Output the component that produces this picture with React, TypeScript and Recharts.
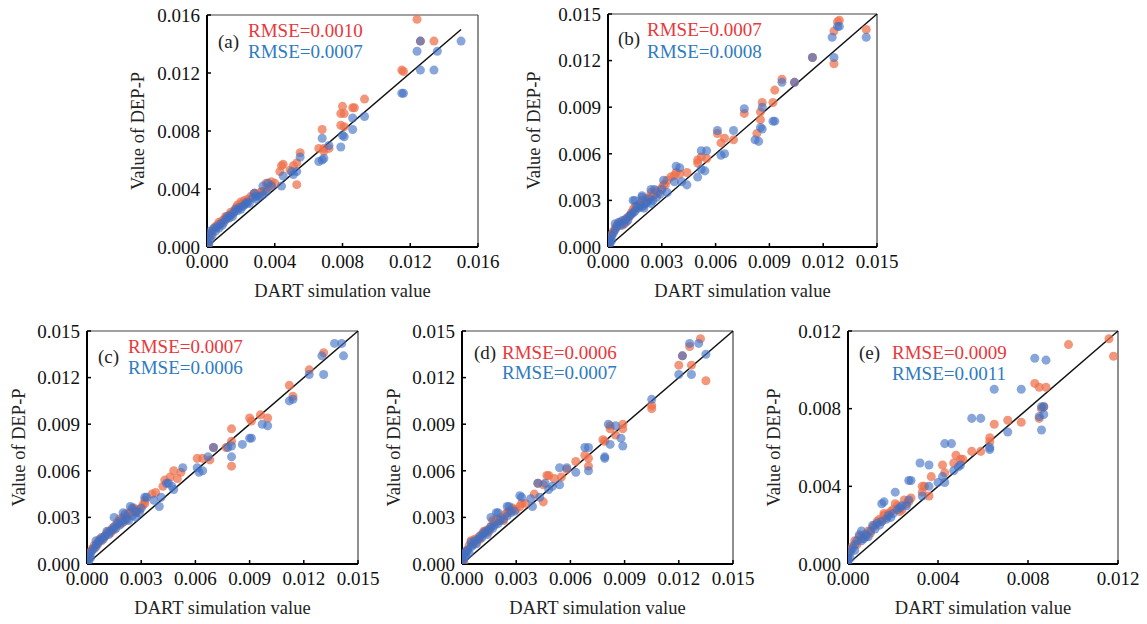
import React from 'react';
import { ScatterChart, Scatter, XAxis, YAxis, ReferenceLine } from 'recharts';

type P = [number, number];

// ---------- data (x = DART simulation value, y = DEP-P value) ----------
const aRed: P[] = [
  [0.0, 0.0001], [0.0, 0.0004], [0.0001, 0.0006], [0.0001, 0.0002], [0.0002, 0.0008], [0.0003, 0.001], [0.0004, 0.0012],
  [0.0005, 0.0014], [0.0006, 0.0015], [0.0007, 0.0017], [0.0008, 0.0016], [0.0009, 0.0018], [0.001, 0.0019], [0.0011, 0.0021],
  [0.0012, 0.002], [0.0013, 0.0022], [0.0014, 0.0024], [0.0015, 0.0023], [0.0016, 0.0025], [0.0017, 0.0027], [0.0018, 0.0029],
  [0.0019, 0.0028], [0.002, 0.0031], [0.0021, 0.003], [0.0022, 0.0032], [0.0023, 0.0031], [0.0024, 0.0033], [0.0026, 0.0035],
  [0.0028, 0.0037], [0.003, 0.0036], [0.0032, 0.0038], [0.0034, 0.0039], [0.0036, 0.0041], [0.0038, 0.0043], [0.004, 0.0044],
  [0.0124, 0.0157], [0.0126, 0.0142], [0.0134, 0.0142], [0.0115, 0.0122], [0.0116, 0.0121], [0.0093, 0.0102], [0.0086, 0.0096],
  [0.0087, 0.0096], [0.008, 0.0097], [0.0079, 0.0092], [0.0081, 0.0092], [0.0079, 0.0084], [0.0081, 0.0083], [0.0068, 0.0081],
  [0.0066, 0.0068], [0.0069, 0.0068], [0.0069, 0.0066], [0.0072, 0.0068], [0.0055, 0.0065], [0.0053, 0.0058], [0.0051, 0.0056],
  [0.0049, 0.0053], [0.0045, 0.0057], [0.0044, 0.0056], [0.0043, 0.0052], [0.0053, 0.0043], [0.0038, 0.0045], [0.0035, 0.0044],
  [0.0032, 0.0038], [0.0028, 0.0037],
];
const aBlue: P[] = [
  [0.0, 0.0], [0.0, 0.0003], [0.0, 0.0006], [0.0001, 0.0002], [0.0001, 0.0009], [0.0002, 0.0005], [0.0002, 0.0011], [0.0003, 0.0008],
  [0.0004, 0.0013], [0.0005, 0.0011], [0.0006, 0.0014], [0.0007, 0.0013], [0.0008, 0.0016], [0.0009, 0.0015], [0.001, 0.0017],
  [0.0011, 0.0019], [0.0012, 0.0021], [0.0013, 0.002], [0.0014, 0.0022], [0.0015, 0.0021], [0.0016, 0.0024], [0.0017, 0.0026],
  [0.0018, 0.0025], [0.0019, 0.0027], [0.002, 0.0026], [0.0021, 0.0028], [0.0022, 0.0029], [0.0023, 0.003], [0.0024, 0.0031],
  [0.0025, 0.003], [0.0027, 0.0034], [0.0029, 0.0033], [0.0031, 0.0035], [0.0033, 0.0036], [0.0035, 0.0038],
  [0.015, 0.0142], [0.0124, 0.0135], [0.0136, 0.0135], [0.0126, 0.0142], [0.0126, 0.0122], [0.0134, 0.0122], [0.0115, 0.0106],
  [0.0116, 0.0106], [0.0086, 0.0089], [0.0093, 0.009], [0.0086, 0.0081], [0.008, 0.0077], [0.0081, 0.0076], [0.0079, 0.0069],
  [0.0068, 0.0075], [0.0072, 0.007], [0.0069, 0.0061], [0.0068, 0.006], [0.0066, 0.0059], [0.0055, 0.0062], [0.0053, 0.0052],
  [0.0051, 0.005], [0.005, 0.0052], [0.0045, 0.0049], [0.0044, 0.0042], [0.0036, 0.0044], [0.0033, 0.0042], [0.0038, 0.0042],
  [0.0029, 0.0035], [0.0028, 0.0037],
];

const bRed: P[] = [
  [0.0, 0.0006], [0.0001, 0.0003], [0.0002, 0.0008], [0.0003, 0.001], [0.0004, 0.0012], [0.0005, 0.0014], [0.0006, 0.0015],
  [0.0007, 0.0016], [0.0008, 0.0014], [0.0009, 0.0017], [0.001, 0.0016], [0.0011, 0.0019], [0.0012, 0.002], [0.0013, 0.0022],
  [0.0014, 0.0024], [0.0015, 0.0026], [0.0016, 0.0025], [0.0017, 0.0027], [0.0018, 0.0028], [0.0019, 0.003], [0.002, 0.0027],
  [0.0021, 0.0031], [0.0022, 0.003], [0.0023, 0.0032], [0.0026, 0.0034], [0.0027, 0.0036], [0.0028, 0.0035], [0.0032, 0.004],
  [0.0035, 0.0045],
  [0.0129, 0.0146], [0.0128, 0.0145], [0.0126, 0.0139], [0.0144, 0.014], [0.0126, 0.0118], [0.0114, 0.0122], [0.0104, 0.0106],
  [0.0097, 0.0108], [0.0093, 0.0101], [0.0092, 0.0093], [0.0086, 0.0093], [0.0085, 0.0087], [0.0085, 0.0082], [0.0076, 0.0086],
  [0.0083, 0.0073], [0.007, 0.0069], [0.0065, 0.007], [0.0063, 0.0067], [0.0061, 0.0073], [0.0055, 0.0057], [0.0052, 0.0058],
  [0.005, 0.0056], [0.005, 0.0054], [0.0044, 0.0048], [0.004, 0.0047], [0.0038, 0.0048], [0.0037, 0.0046], [0.0033, 0.0043],
  [0.0031, 0.004], [0.003, 0.0038], [0.0024, 0.0035], [0.0025, 0.0033],
];
const bBlue: P[] = [
  [0.0, 0.0001], [0.0, 0.0003], [0.0001, 0.0005], [0.0001, 0.0002], [0.0002, 0.0007], [0.0002, 0.0004], [0.0003, 0.0009],
  [0.0004, 0.0011], [0.0004, 0.0015], [0.0005, 0.0013], [0.0006, 0.0016], [0.0007, 0.0014], [0.0008, 0.0017], [0.0009, 0.0015],
  [0.001, 0.0018], [0.0011, 0.0017], [0.0012, 0.002], [0.0013, 0.0021], [0.0014, 0.0022], [0.0015, 0.0023], [0.0016, 0.0026],
  [0.0017, 0.0025], [0.0018, 0.0027], [0.0019, 0.0026], [0.002, 0.0025], [0.0021, 0.0028], [0.0022, 0.0029], [0.0023, 0.0031],
  [0.0025, 0.003], [0.0027, 0.0032], [0.0029, 0.0034],
  [0.0129, 0.0142], [0.0128, 0.0142], [0.0125, 0.0135], [0.0144, 0.0135], [0.0126, 0.0122], [0.0114, 0.0122], [0.0104, 0.0106],
  [0.0097, 0.0106], [0.0092, 0.0081], [0.0093, 0.0081], [0.0086, 0.009], [0.0085, 0.0077], [0.0086, 0.0076], [0.0076, 0.0089],
  [0.0082, 0.0069], [0.0084, 0.0068], [0.007, 0.0075], [0.0061, 0.0075], [0.0063, 0.0059], [0.0065, 0.006], [0.0052, 0.0062],
  [0.0055, 0.0062], [0.0052, 0.005], [0.005, 0.0045], [0.0054, 0.0049], [0.0038, 0.0052], [0.004, 0.0051], [0.0044, 0.004],
  [0.0041, 0.0042], [0.0037, 0.0042], [0.0031, 0.0043], [0.0033, 0.0035], [0.003, 0.0037], [0.0019, 0.0033], [0.0019, 0.0032],
  [0.0014, 0.003], [0.0015, 0.003], [0.0024, 0.0037], [0.0026, 0.0037], [0.0024, 0.0028],
];

const cRed: P[] = [
  [0.0, 0.0006], [0.0, 0.0002], [0.0001, 0.0004], [0.0002, 0.0008], [0.0003, 0.001], [0.0004, 0.0012], [0.0005, 0.0011],
  [0.0006, 0.0014], [0.0007, 0.0016], [0.0008, 0.0015], [0.0009, 0.0017], [0.001, 0.0018], [0.0011, 0.002], [0.0012, 0.0021],
  [0.0013, 0.002], [0.0014, 0.0023], [0.0015, 0.0022], [0.0016, 0.0025], [0.0017, 0.0027], [0.0018, 0.0029], [0.0019, 0.0026],
  [0.002, 0.003], [0.0021, 0.0028], [0.0022, 0.0031], [0.0023, 0.0033], [0.0025, 0.0034], [0.0027, 0.0033], [0.0029, 0.0035],
  [0.0031, 0.0038],
  [0.0131, 0.0136], [0.0123, 0.0125], [0.0112, 0.0115], [0.0114, 0.0108], [0.009, 0.0094], [0.0091, 0.0092], [0.0096, 0.0096],
  [0.01, 0.0094], [0.008, 0.0087], [0.008, 0.0079], [0.008, 0.0063], [0.007, 0.0075], [0.0077, 0.0075], [0.0068, 0.0067],
  [0.0061, 0.0068], [0.0064, 0.0068], [0.0052, 0.0059], [0.0048, 0.006], [0.005, 0.0055], [0.0046, 0.0056], [0.0043, 0.0054],
  [0.0042, 0.005], [0.0038, 0.0046], [0.0036, 0.0045], [0.0032, 0.0039], [0.0032, 0.0041], [0.0026, 0.0036], [0.0027, 0.0035],
  [0.0024, 0.0033],
];
const cBlue: P[] = [
  [0.0, 0.0001], [0.0, 0.0003], [0.0001, 0.0002], [0.0001, 0.0005], [0.0002, 0.0004], [0.0002, 0.0007], [0.0003, 0.0009],
  [0.0004, 0.001], [0.0005, 0.0015], [0.0005, 0.0012], [0.0006, 0.0013], [0.0007, 0.0015], [0.0008, 0.0017], [0.0009, 0.0016],
  [0.001, 0.0018], [0.0011, 0.0021], [0.0012, 0.0019], [0.0013, 0.0021], [0.0014, 0.0022], [0.0015, 0.0024], [0.0016, 0.0023],
  [0.0017, 0.0026], [0.0018, 0.0025], [0.0019, 0.0028], [0.002, 0.0027], [0.0022, 0.0029], [0.0023, 0.0028], [0.0025, 0.0031],
  [0.0027, 0.003], [0.0029, 0.0033],
  [0.0137, 0.0142], [0.0141, 0.0142], [0.0142, 0.0134], [0.013, 0.0134], [0.0131, 0.0122], [0.0123, 0.0122], [0.0112, 0.0105],
  [0.0114, 0.0106], [0.0097, 0.009], [0.01, 0.0089], [0.009, 0.0081], [0.0091, 0.0081], [0.0086, 0.0077], [0.008, 0.0076],
  [0.008, 0.0069], [0.0078, 0.0075], [0.007, 0.0075], [0.0067, 0.0069], [0.0062, 0.0059], [0.0064, 0.006], [0.0061, 0.0062],
  [0.0053, 0.0062], [0.0045, 0.0052], [0.0047, 0.005], [0.0048, 0.0048], [0.0044, 0.0052], [0.0041, 0.0043], [0.004, 0.0037],
  [0.0037, 0.0041], [0.0032, 0.0043], [0.0033, 0.0043], [0.003, 0.0036], [0.0024, 0.0037], [0.0025, 0.0036], [0.002, 0.0033],
  [0.0021, 0.0032], [0.0015, 0.003], [0.0027, 0.0034],
];

const dRed: P[] = [
  [0.0, 0.0006], [0.0, 0.0003], [0.0001, 0.0001], [0.0002, 0.0007], [0.0003, 0.0009], [0.0004, 0.0012], [0.0005, 0.0015],
  [0.0006, 0.0013], [0.0007, 0.0016], [0.0008, 0.0014], [0.0009, 0.0017], [0.001, 0.0016], [0.0011, 0.0019], [0.0012, 0.0021],
  [0.0013, 0.002], [0.0014, 0.0022], [0.0015, 0.0021], [0.0016, 0.0024], [0.0017, 0.0028], [0.0019, 0.0027], [0.002, 0.0029],
  [0.0022, 0.003], [0.0023, 0.0028], [0.0024, 0.0032], [0.0026, 0.0034], [0.0028, 0.0036], [0.003, 0.0035], [0.0035, 0.0039],
  [0.0132, 0.0145], [0.0126, 0.014], [0.0122, 0.0134], [0.012, 0.0128], [0.0127, 0.0128], [0.0135, 0.0118], [0.0105, 0.0102],
  [0.0105, 0.01], [0.0089, 0.009], [0.0089, 0.0087], [0.0082, 0.0089], [0.0082, 0.0087], [0.0085, 0.0083], [0.0079, 0.0079],
  [0.0078, 0.008], [0.0068, 0.007], [0.007, 0.0068], [0.007, 0.0063], [0.0063, 0.0066], [0.0058, 0.0061], [0.0055, 0.0056],
  [0.0051, 0.0055], [0.0048, 0.0057], [0.0047, 0.0057], [0.0045, 0.004], [0.0042, 0.0052], [0.0045, 0.0051], [0.004, 0.0045],
  [0.0033, 0.0039], [0.0032, 0.0037], [0.0028, 0.0035], [0.0025, 0.0033], [0.0021, 0.0028], [0.0018, 0.0027],
];
const dBlue: P[] = [
  [0.0, 0.0002], [0.0, 0.0004], [0.0001, 0.0006], [0.0001, 0.0003], [0.0002, 0.0008], [0.0002, 0.0005], [0.0003, 0.0009],
  [0.0004, 0.0007], [0.0005, 0.0011], [0.0005, 0.0014], [0.0006, 0.0012], [0.0007, 0.0015], [0.0008, 0.0013], [0.0009, 0.0016],
  [0.001, 0.0018], [0.0011, 0.0017], [0.0012, 0.002], [0.0013, 0.0021], [0.0014, 0.0019], [0.0015, 0.0022], [0.0016, 0.0024],
  [0.0017, 0.0023], [0.0018, 0.0025], [0.002, 0.0026], [0.0021, 0.0028], [0.0023, 0.0029], [0.0025, 0.0031], [0.0027, 0.0033],
  [0.0029, 0.0034],
  [0.0126, 0.0142], [0.0131, 0.0142], [0.0122, 0.0134], [0.012, 0.0122], [0.0127, 0.0122], [0.0135, 0.0135], [0.0105, 0.0106],
  [0.0081, 0.009], [0.0085, 0.0089], [0.0082, 0.0077], [0.0088, 0.0081], [0.0089, 0.0076], [0.0079, 0.0069], [0.0079, 0.0068],
  [0.0068, 0.0075], [0.007, 0.0075], [0.007, 0.006], [0.0063, 0.0059], [0.0058, 0.0062], [0.0054, 0.0062], [0.0054, 0.0051],
  [0.005, 0.005], [0.0048, 0.0048], [0.0046, 0.0052], [0.0043, 0.0043], [0.0042, 0.0052], [0.0038, 0.0042], [0.0039, 0.0037],
  [0.0033, 0.0043], [0.0032, 0.0044], [0.0025, 0.0037], [0.0026, 0.0037], [0.0016, 0.003], [0.0019, 0.0033], [0.002, 0.0033],
];

const eRed: P[] = [
  [0.0, 0.0002], [0.0, 0.0005], [0.0001, 0.0007], [0.0002, 0.0009], [0.0003, 0.0012], [0.0004, 0.001], [0.0005, 0.0014],
  [0.0006, 0.0013], [0.0007, 0.0015], [0.0008, 0.0014], [0.0009, 0.0017], [0.001, 0.0016], [0.0011, 0.0019], [0.0012, 0.002],
  [0.0013, 0.0022], [0.0015, 0.0022], [0.0016, 0.0025], [0.0017, 0.0024], [0.0018, 0.0026], [0.0019, 0.0027], [0.002, 0.0028],
  [0.0022, 0.003], [0.0023, 0.0027], [0.0025, 0.0033], [0.0026, 0.0031], [0.0027, 0.0032],
  [0.0116, 0.0116], [0.0118, 0.0107], [0.0098, 0.0113], [0.0083, 0.0093], [0.0085, 0.0091], [0.0088, 0.0091], [0.0086, 0.008],
  [0.0087, 0.0081], [0.0085, 0.0075], [0.0077, 0.0073], [0.0071, 0.0074], [0.0065, 0.0072], [0.0063, 0.0065], [0.0063, 0.0063],
  [0.0059, 0.0058], [0.0055, 0.0058], [0.0048, 0.0056], [0.005, 0.0054], [0.0051, 0.0054], [0.0047, 0.0052], [0.0042, 0.0051],
  [0.0043, 0.0047], [0.0037, 0.0045], [0.0033, 0.004], [0.0034, 0.004], [0.0036, 0.0035], [0.0033, 0.0037], [0.0028, 0.0034],
  [0.0021, 0.0031], [0.0024, 0.0028], [0.0016, 0.0026], [0.0014, 0.0023],
];
const eBlue: P[] = [
  [0.0, 0.0], [0.0, 0.0002], [0.0, 0.0004], [0.0001, 0.0006], [0.0001, 0.0003], [0.0002, 0.0008], [0.0003, 0.0007],
  [0.0003, 0.001], [0.0004, 0.0012], [0.0005, 0.0015], [0.0006, 0.0012], [0.0006, 0.0017], [0.0007, 0.0013], [0.0008, 0.0015],
  [0.0009, 0.0014], [0.001, 0.0017], [0.0011, 0.002], [0.0012, 0.0018], [0.0013, 0.0021], [0.0014, 0.002], [0.0015, 0.0022],
  [0.0017, 0.0023], [0.0018, 0.0025], [0.0019, 0.0024], [0.002, 0.0026], [0.0022, 0.0028], [0.0024, 0.003], [0.0026, 0.003],
  [0.0083, 0.0106], [0.0088, 0.0105], [0.0065, 0.009], [0.0077, 0.009], [0.0055, 0.0075], [0.0059, 0.0075], [0.0086, 0.0081],
  [0.0087, 0.0081], [0.0085, 0.0076], [0.0087, 0.0077], [0.0086, 0.0069], [0.0071, 0.0068], [0.0063, 0.006], [0.0063, 0.0059],
  [0.0043, 0.0062], [0.0046, 0.0062], [0.0032, 0.0052], [0.0036, 0.0051], [0.0042, 0.0045], [0.0043, 0.0042], [0.005, 0.0051],
  [0.0049, 0.005], [0.0047, 0.0048], [0.004, 0.0042], [0.0036, 0.004], [0.0033, 0.0035], [0.0027, 0.0043], [0.0028, 0.0043],
  [0.0021, 0.0037], [0.0015, 0.0031], [0.0016, 0.0032], [0.0023, 0.0029], [0.0027, 0.0033],
];

const ticks016 = [0, 0.004, 0.008, 0.012, 0.016];
const ticks015 = [0, 0.003, 0.006, 0.009, 0.012, 0.015];
const ticks012 = [0, 0.004, 0.008, 0.012];

const panelLabels = ['(a)', '(b)', '(c)', '(d)', '(e)'];
const redRmse = ['RMSE=0.0010', 'RMSE=0.0007', 'RMSE=0.0007', 'RMSE=0.0006', 'RMSE=0.0009'];
const blueRmse = ['RMSE=0.0007', 'RMSE=0.0008', 'RMSE=0.0006', 'RMSE=0.0007', 'RMSE=0.0011'];
const axisMax = [0.016, 0.015, 0.015, 0.015, 0.012];
const lineMax = [0.015, 0.015, 0.015, 0.015, 0.012];
const axisTicks = [ticks016, ticks015, ticks015, ticks015, ticks012];
const redSeries = [aRed, bRed, cRed, dRed, eRed];
const blueSeries = [aBlue, bBlue, cBlue, dBlue, eBlue];

// ---------- layout ----------
const layout = [
  { left: 207, top: 15, w: 271, h: 232, yLab: 70, lab: [11, 27], red: [41, 16], blue: [41, 37] },
  { left: 608, top: 14, w: 269, h: 233, yLab: 75, lab: [10, 25], red: [39, 16], blue: [39, 38] },
  { left: 87, top: 331, w: 271, h: 233, yLab: 69, lab: [11, 26], red: [41, 16], blue: [41, 37] },
  { left: 462, top: 331, w: 271, h: 233, yLab: 69, lab: [12, 22], red: [40, 22], blue: [40, 42] },
  { left: 848, top: 331, w: 270, h: 233, yLab: 75, lab: [11, 22], red: [44, 22], blue: [44, 43] },
];

const FONT = '"Liberation Serif", "Times New Roman", serif';
const RED_TXT = '#e8383d';
const BLUE_TXT = '#2f7bbf';
const TOP_PAD = 10;
const X_AXIS_H = 86;
const RIGHT_PAD = 30;

const fmt = (v: number) => v.toFixed(3);

function Panel({ i }: { i: number }) {
  const L = layout[i];
  const yw = L.yLab * 2;
  const width = yw + L.w + RIGHT_PAD;
  const height = TOP_PAD + L.h + X_AXIS_H;
  const red = redSeries[i].map(([x, y]) => ({ x, y }));
  const blue = blueSeries[i].map(([x, y]) => ({ x, y }));
  const max = axisMax[i];
  const lm = lineMax[i];
  const tickStyle = { fill: '#111', fontSize: 19, fontFamily: FONT };
  const textStyle = (c: string, dx: number, dy: number): React.CSSProperties => ({
    position: 'absolute',
    left: L.left + dx,
    top: L.top + dy - 10,
    fontFamily: FONT,
    fontSize: 19,
    lineHeight: '20px',
    color: c,
    whiteSpace: 'nowrap',
  });
  return (
    <>
      <div style={{ position: 'absolute', left: L.left - yw, top: L.top - TOP_PAD, width, height }}>
        <ScatterChart width={width} height={height} margin={{ top: TOP_PAD, right: RIGHT_PAD, left: 0, bottom: 0 }}>
          <XAxis
            type="number"
            dataKey="x"
            domain={[0, max]}
            ticks={axisTicks[i]}
            interval={0}
            allowDataOverflow
            tickFormatter={fmt}
            height={X_AXIS_H}
            tickSize={-4}
            tickMargin={12}
            tick={tickStyle}
            axisLine={{ stroke: '#000', strokeWidth: 2 }}
            tickLine={{ stroke: '#000', strokeWidth: 1.5 }}
            label={{ value: 'DART simulation value', position: 'center', fill: '#222', fontSize: 18.5, fontFamily: FONT }}
          />
          <YAxis
            type="number"
            dataKey="y"
            domain={[0, max]}
            ticks={axisTicks[i]}
            interval={0}
            allowDataOverflow
            tickFormatter={fmt}
            width={yw}
            tickSize={-4}
            tickMargin={11}
            tick={tickStyle}
            axisLine={{ stroke: '#000', strokeWidth: 2 }}
            tickLine={{ stroke: '#000', strokeWidth: 1.5 }}
            label={{ value: 'Value of DEP-P', angle: -90, position: 'center', fill: '#222', fontSize: 18.5, fontFamily: FONT }}
          />
          <ReferenceLine y={max} stroke="#444" strokeWidth={1.2} />
          <ReferenceLine x={max} stroke="#444" strokeWidth={1.2} />
          <Scatter data={red} fill="#ef6f4a" fillOpacity={0.72} isAnimationActive={false} />
          <Scatter data={blue} fill="#3f6fc4" fillOpacity={0.62} isAnimationActive={false} />
          <ReferenceLine segment={[{ x: 0, y: 0 }, { x: lm, y: lm }]} stroke="#111" strokeWidth={1.5} />
        </ScatterChart>
      </div>
      <div style={textStyle('#222', L.lab[0], L.lab[1])}>{panelLabels[i]}</div>
      <div style={textStyle(RED_TXT, L.red[0], L.red[1])}>{redRmse[i]}</div>
      <div style={textStyle(BLUE_TXT, L.blue[0], L.blue[1])}>{blueRmse[i]}</div>
    </>
  );
}

export default function App() {
  return (
    <div style={{ position: 'absolute', left: 0, top: 0, width: 1147, height: 624, background: '#fff', overflow: 'hidden' }}>
      {[0, 1, 2, 3, 4].map((i) => (
        <Panel key={i} i={i} />
      ))}
    </div>
  );
}
